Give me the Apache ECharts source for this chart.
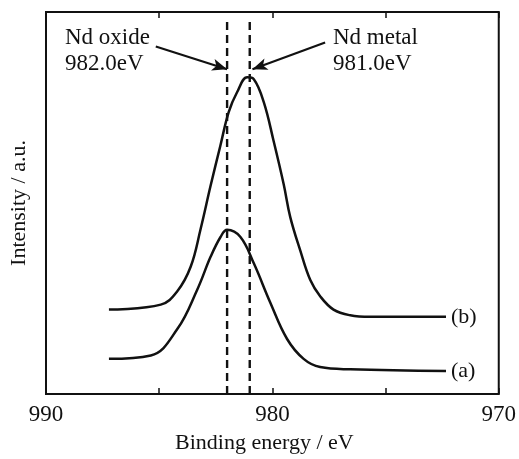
<!DOCTYPE html>
<html>
<head>
<meta charset="utf-8">
<script src="https://cdn.jsdelivr.net/npm/echarts@6/dist/echarts.min.js"></script>
<style>
  html, body { margin: 0; padding: 0; background: #fff; }
  #chart { width: 519px; height: 459px; }
</style>
</head>
<body>
<div id="chart"></div>
<script>
// Nd 3d XPS spectra: binding energy (eV) vs intensity (arbitrary units)
const energyA = [987.22, 985.37, 984.20, 983.32, 982.73, 982.29, 982.00, 981.41, 980.82, 980.09, 979.35, 978.62, 977.89, 976.56, 972.33];
const intensityA = [9.2, 10.1, 17.0, 27.3, 35.9, 41.1, 43.0, 41.1, 34.2, 23.9, 14.4, 9.2, 7.05, 6.46, 6.0];

const energyB = [987.22, 984.93, 984.20, 983.61, 983.17, 982.73, 982.29, 981.93, 981.56, 981.11, 980.82, 980.38, 979.94, 979.50, 979.21, 978.77, 978.33, 977.89, 977.30, 976.56, 975.68, 972.33];
const intensityB = [22.1, 23.4, 26.9, 33.3, 43.2, 54.5, 65.2, 73.8, 79.0, 82.9, 82.4, 76.4, 66.1, 54.9, 46.3, 37.6, 29.9, 25.6, 22.1, 20.6, 20.2, 20.2];

const curveNames = ['(a)', '(b)'];

// reference peak positions
const peakEnergies = [982.0, 981.0];
const peakLineTop = 98.7;
const peakNames = ['Nd oxide', 'Nd metal'];
const peakLabels = ['982.0eV', '981.0eV'];

// annotation arrows: [start energy, start intensity, end energy, end intensity]
const arrowOxide = [985.15, 90.96, 982.0, 85.0];
const arrowMetal = [977.67, 92.0, 980.88, 85.0];

const xTickLabels = [990, 980, 970];

const zip = (xs, ys) => xs.map((x, i) => [x, ys[i]]);

const FONT = '"Liberation Serif", "Times New Roman", serif';
const INK = '#111';

const chart = echarts.init(document.getElementById('chart'), null, { renderer: 'canvas' });

const curveSeries = (name, xs, ys) => ({
  name: name,
  type: 'line',
  xAxisIndex: 0,
  data: zip(xs, ys),
  smooth: 0.4,
  showSymbol: false,
  lineStyle: { color: INK, width: 2.5 },
  endLabel: {
    show: true,
    formatter: name,
    color: INK,
    fontFamily: FONT,
    fontSize: 22,
    align: 'left',
    verticalAlign: 'middle',
    offset: [13, 0]
  },
  silent: true,
  z: 3
});

const dashSeries = (e) => ({
  type: 'line',
  xAxisIndex: 0,
  data: [[e, 0], [e, peakLineTop]],
  showSymbol: false,
  lineStyle: { color: INK, width: 2.4, type: [8, 5] },
  silent: true,
  z: 2
});

const arrowData = (a) => [{ coord: [a[0], a[1]] }, { coord: [a[2], a[3]] }];

chart.setOption({
  animation: false,
  grid: {
    left: 45, right: 20, top: 12, bottom: 60,
    show: true, borderColor: INK, borderWidth: 2, backgroundColor: 'transparent'
  },
  xAxis: [
    {
      type: 'value', min: 970, max: 990, interval: 5, inverse: true,
      position: 'bottom',
      name: 'Binding energy / eV', nameLocation: 'middle', nameGap: 38,
      nameTextStyle: { fontFamily: FONT, fontSize: 22, color: INK, padding: [0, 16, 0, 0] },
      axisLine: { show: false },
      axisTick: { show: true, inside: true, length: 6, lineStyle: { color: INK, width: 1.5 } },
      axisLabel: {
        fontFamily: FONT, fontSize: 23, color: INK, margin: 9,
        formatter: (v) => xTickLabels.includes(v) ? String(v) : ''
      },
      splitLine: { show: false }
    },
    {
      type: 'value', min: 970, max: 990, interval: 5, inverse: true,
      position: 'top',
      axisLine: { show: false },
      axisTick: { show: true, inside: true, length: 6, lineStyle: { color: INK, width: 1.5 } },
      axisLabel: { show: false },
      splitLine: { show: false }
    }
  ],
  yAxis: {
    type: 'value', min: 0, max: 100,
    name: 'Intensity / a.u.', nameLocation: 'middle', nameGap: 16,
    nameTextStyle: { fontFamily: FONT, fontSize: 22, color: INK },
    axisLine: { show: false },
    axisTick: { show: false },
    axisLabel: { show: false },
    splitLine: { show: false }
  },
  series: [
    curveSeries(curveNames[0], energyA, intensityA),
    curveSeries(curveNames[1], energyB, intensityB),
    dashSeries(peakEnergies[0]),
    dashSeries(peakEnergies[1]),
    {
      type: 'line',
      xAxisIndex: 0,
      data: [],
      silent: true,
      markLine: {
        silent: true,
        symbol: ['none', 'arrow'],
        symbolSize: [9, 15],
        label: { show: false },
        lineStyle: { color: INK, width: 2.2, type: 'solid' },
        data: [arrowData(arrowOxide), arrowData(arrowMetal)]
      }
    }
  ],
  graphic: [
    {
      type: 'text', left: 65, top: 25,
      style: {
        text: peakNames[0] + '\n' + peakLabels[0],
        font: '23px ' + FONT, fill: INK, lineHeight: 26
      }
    },
    {
      type: 'text', left: 333, top: 25,
      style: {
        text: peakNames[1] + '\n' + peakLabels[1],
        font: '23px ' + FONT, fill: INK, lineHeight: 26
      }
    }
  ]
});
</script>
</body>
</html>
